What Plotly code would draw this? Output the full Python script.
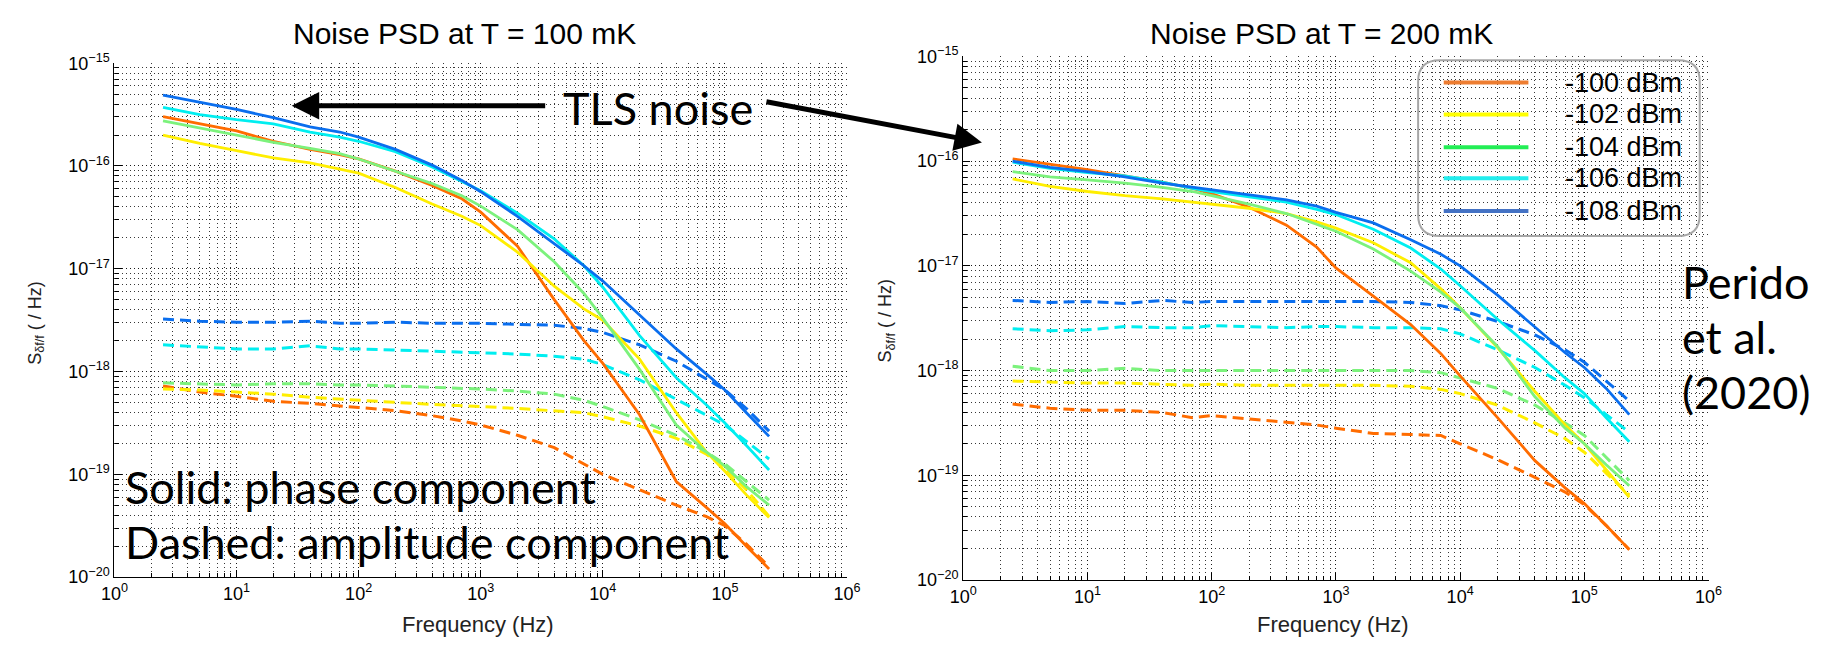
import plotly.graph_objects as go

W, H = 1825, 647

# ---------------------------------------------------------------- data
freq_hz = [2.5, 5, 10, 20, 40, 70, 100, 200, 400, 700, 1e3, 2e3, 4e3, 7e3,
           1e4, 2e4, 4e4, 7e4, 1e5, 1.5e5, 2.3e5]

powers = ["-100 dBm", "-102 dBm", "-104 dBm", "-106 dBm", "-108 dBm"]
line_colors = ["#FF6C00", "#FFEE00", "#7CF27C", "#00EEF0", "#0A6EEE"]
legend_colors = ["#ED7D31", "#FFFF00", "#22EE55", "#22EEEE", "#4472C4"]

# T = 100 mK, phase component (solid)
phase_100_m100 = [3.02e-16, 2.57e-16, 2.19e-16, 1.74e-16, 1.45e-16, 1.29e-16, 1.17e-16, 8.91e-17,
                  6.46e-17, 4.79e-17, 3.55e-17, 1.66e-17, 5.01e-18, 2.00e-18, 1.20e-18, 3.80e-19,
                  8.51e-20, 4.79e-20, 3.31e-20, 2.00e-20, 1.20e-20]
phase_100_m102 = [2.00e-16, 1.66e-16, 1.41e-16, 1.20e-16, 1.07e-16, 9.33e-17, 8.51e-17, 6.17e-17,
                  4.27e-17, 3.24e-17, 2.63e-17, 1.45e-17, 6.76e-18, 4.07e-18, 3.16e-18, 1.32e-18,
                  3.98e-19, 1.66e-19, 1.07e-19, 6.31e-20, 3.80e-20]
phase_100_m104 = [2.75e-16, 2.34e-16, 2.00e-16, 1.70e-16, 1.48e-16, 1.32e-16, 1.17e-16, 8.91e-17,
                  6.76e-17, 5.13e-17, 4.07e-17, 2.40e-17, 1.17e-17, 5.75e-18, 3.31e-18, 1.05e-18,
                  3.02e-19, 1.66e-19, 1.20e-19, 7.59e-20, 5.01e-20]
phase_100_m106 = [3.72e-16, 3.16e-16, 2.82e-16, 2.57e-16, 2.14e-16, 1.91e-16, 1.74e-16, 1.38e-16,
                  9.77e-17, 7.08e-17, 5.75e-17, 3.47e-17, 1.95e-17, 1.07e-17, 6.61e-18, 2.24e-18,
                  8.71e-19, 4.79e-19, 3.16e-19, 1.91e-19, 1.10e-19]
phase_100_m108 = [4.90e-16, 4.17e-16, 3.55e-16, 2.95e-16, 2.40e-16, 2.14e-16, 1.91e-16, 1.45e-16,
                  1.02e-16, 7.24e-17, 5.62e-17, 3.24e-17, 1.74e-17, 1.07e-17, 7.59e-18, 3.55e-18,
                  1.66e-18, 9.55e-19, 6.61e-19, 3.98e-19, 2.34e-19]

# T = 100 mK, amplitude component (dashed)
amp_100_m100 = [7.24e-19, 6.31e-19, 5.75e-19, 5.13e-19, 4.90e-19, 4.68e-19, 4.47e-19, 4.17e-19,
                3.72e-19, 3.31e-19, 3.02e-19, 2.40e-19, 1.82e-19, 1.26e-19, 1.00e-19, 7.08e-20,
                5.01e-20, 3.89e-20, 3.16e-20, 2.09e-20, 1.26e-20]
amp_100_m102 = [6.76e-19, 6.61e-19, 6.31e-19, 6.03e-19, 5.62e-19, 5.37e-19, 5.25e-19, 5.01e-19,
                4.79e-19, 4.68e-19, 4.57e-19, 4.37e-19, 4.17e-19, 3.98e-19, 3.63e-19, 2.95e-19,
                2.24e-19, 1.58e-19, 1.15e-19, 7.08e-20, 3.89e-20]
amp_100_m104 = [7.76e-19, 7.59e-19, 7.41e-19, 7.59e-19, 7.59e-19, 7.41e-19, 7.41e-19, 7.24e-19,
                7.08e-19, 6.92e-19, 6.76e-19, 6.46e-19, 6.03e-19, 5.25e-19, 4.57e-19, 3.39e-19,
                2.40e-19, 1.66e-19, 1.26e-19, 8.51e-20, 5.62e-20]
amp_100_m106 = [1.82e-18, 1.74e-18, 1.66e-18, 1.66e-18, 1.78e-18, 1.66e-18, 1.66e-18, 1.62e-18,
                1.58e-18, 1.55e-18, 1.51e-18, 1.48e-18, 1.41e-18, 1.32e-18, 1.17e-18, 8.32e-19,
                5.37e-19, 3.80e-19, 3.02e-19, 2.09e-19, 1.41e-19]
amp_100_m108 = [3.24e-18, 3.09e-18, 3.02e-18, 3.02e-18, 3.09e-18, 2.95e-18, 2.95e-18, 3.02e-18,
                2.95e-18, 2.95e-18, 2.95e-18, 2.88e-18, 2.82e-18, 2.63e-18, 2.40e-18, 1.82e-18,
                1.26e-18, 8.51e-19, 6.61e-19, 4.37e-19, 2.63e-19]

# T = 200 mK, phase component (solid)
phase_200_m100 = [1.05e-16, 9.33e-17, 8.32e-17, 7.24e-17, 6.31e-17, 5.50e-17, 4.90e-17, 3.63e-17,
                  2.45e-17, 1.51e-17, 9.55e-18, 5.13e-18, 2.75e-18, 1.45e-18, 8.91e-19, 3.55e-19,
                  1.38e-19, 7.59e-20, 5.37e-20, 3.31e-20, 1.95e-20]
phase_200_m102 = [6.76e-17, 5.75e-17, 5.13e-17, 4.68e-17, 4.37e-17, 4.07e-17, 3.89e-17, 3.55e-17,
                  3.16e-17, 2.63e-17, 2.29e-17, 1.66e-17, 1.07e-17, 6.03e-18, 3.98e-18, 1.66e-18,
                  6.31e-19, 3.02e-19, 2.00e-19, 1.12e-19, 6.17e-20]
phase_200_m104 = [7.94e-17, 7.08e-17, 6.61e-17, 6.17e-17, 5.62e-17, 5.13e-17, 4.68e-17, 3.89e-17,
                  3.16e-17, 2.51e-17, 2.14e-17, 1.45e-17, 8.91e-18, 5.62e-18, 3.98e-18, 1.70e-18,
                  5.62e-19, 2.82e-19, 2.00e-19, 1.26e-19, 7.94e-20]
phase_200_m106 = [9.77e-17, 8.51e-17, 7.76e-17, 7.24e-17, 6.31e-17, 5.50e-17, 5.13e-17, 4.57e-17,
                  4.07e-17, 3.47e-17, 3.09e-17, 2.24e-17, 1.48e-17, 9.33e-18, 6.46e-18, 3.09e-18,
                  1.55e-18, 8.51e-19, 6.03e-19, 3.55e-19, 2.09e-19]
phase_200_m108 = [1.00e-16, 8.71e-17, 7.94e-17, 7.08e-17, 6.17e-17, 5.62e-17, 5.37e-17, 4.79e-17,
                  4.27e-17, 3.72e-17, 3.24e-17, 2.57e-17, 1.78e-17, 1.29e-17, 1.00e-17, 5.25e-18,
                  2.63e-18, 1.48e-18, 1.07e-18, 6.76e-19, 3.80e-19]

# T = 200 mK, amplitude component (dashed)
amp_200_m100 = [4.79e-19, 4.37e-19, 4.17e-19, 4.17e-19, 3.98e-19, 3.55e-19, 3.72e-19, 3.47e-19,
                3.24e-19, 3.02e-19, 2.82e-19, 2.51e-19, 2.45e-19, 2.40e-19, 2.00e-19, 1.41e-19,
                9.55e-20, 6.92e-20, 5.25e-20, 3.31e-20, 1.95e-20]
amp_200_m102 = [7.94e-19, 7.76e-19, 7.59e-19, 7.59e-19, 7.41e-19, 7.24e-19, 7.41e-19, 7.24e-19,
                7.24e-19, 7.24e-19, 7.24e-19, 7.24e-19, 7.08e-19, 6.61e-19, 6.03e-19, 4.68e-19,
                3.16e-19, 2.24e-19, 1.66e-19, 1.05e-19, 6.46e-20]
amp_200_m104 = [1.10e-18, 1.00e-18, 1.00e-18, 1.05e-18, 1.00e-18, 1.00e-18, 1.00e-18, 1.00e-18,
                1.00e-18, 1.00e-18, 1.00e-18, 1.00e-18, 1.00e-18, 9.55e-19, 8.51e-19, 6.76e-19,
                4.68e-19, 3.16e-19, 2.40e-19, 1.48e-19, 8.91e-20]
amp_200_m106 = [2.51e-18, 2.40e-18, 2.45e-18, 2.63e-18, 2.57e-18, 2.57e-18, 2.69e-18, 2.63e-18,
                2.57e-18, 2.63e-18, 2.63e-18, 2.57e-18, 2.57e-18, 2.51e-18, 2.24e-18, 1.58e-18,
                1.07e-18, 7.24e-19, 5.50e-19, 3.80e-19, 2.57e-19]
amp_200_m108 = [4.68e-18, 4.47e-18, 4.57e-18, 4.37e-18, 4.68e-18, 4.47e-18, 4.57e-18, 4.57e-18,
                4.57e-18, 4.57e-18, 4.57e-18, 4.57e-18, 4.47e-18, 4.17e-18, 3.80e-18, 2.95e-18,
                2.19e-18, 1.58e-18, 1.20e-18, 7.94e-19, 5.13e-19]

x_tick_exp = [0, 1, 2, 3, 4, 5, 6]
y_tick_exp = [-20, -19, -18, -17, -16, -15]

panels = [
    dict(xa="x", ya="y", title="Noise PSD at T = 100 mK",
         phase=[phase_100_m100, phase_100_m102, phase_100_m104, phase_100_m106, phase_100_m108],
         amp=[amp_100_m100, amp_100_m102, amp_100_m104, amp_100_m106, amp_100_m108]),
    dict(xa="x2", ya="y2", title="Noise PSD at T = 200 mK",
         phase=[phase_200_m100, phase_200_m102, phase_200_m104, phase_200_m106, phase_200_m108],
         amp=[amp_200_m100, amp_200_m102, amp_200_m104, amp_200_m106, amp_200_m108]),
]

# ---------------------------------------------------------------- helpers
def px(x):
    return x / W


def py(y):
    return 1 - y / H


AXIS_FONT = "Liberation Sans, Arial, Helvetica, sans-serif"
SLIDE_FONT = "Lato, Open Sans, sans-serif"
GRID = "rgba(20,20,20,0.85)"

fig = go.Figure()

for p in panels:
    for i in range(len(powers)):
        fig.add_trace(go.Scatter(
            x=freq_hz, y=p["amp"][i], xaxis=p["xa"], yaxis=p["ya"], mode="lines",
            line=dict(color=line_colors[i], width=3, dash="11px,6px"),
            showlegend=False, hoverinfo="skip"))
    for i in range(len(powers)):
        fig.add_trace(go.Scatter(
            x=freq_hz, y=p["phase"][i], xaxis=p["xa"], yaxis=p["ya"], mode="lines",
            line=dict(color=line_colors[i], width=2.8),
            showlegend=False, hoverinfo="skip"))


def log_axis(domain, rng, exps, anchor):
    return dict(
        type="log", range=rng, domain=domain, anchor=anchor,
        tickmode="array", tickvals=[10.0 ** e for e in exps],
        ticktext=["10<sup>%s</sup>" % (str(e).replace("-", "\u2212")) for e in exps],
        ticks="inside", ticklen=7, tickwidth=1, tickcolor="black",
        showline=True, linecolor="black", linewidth=1.3, mirror=False,
        showgrid=True, gridcolor=GRID, gridwidth=1, griddash="1px,3px",
        minor=dict(dtick="D1", ticks="inside", ticklen=4, tickcolor="black",
                   showgrid=True, gridcolor=GRID, gridwidth=1, griddash="1px,3px"),
        zeroline=False, tickfont=dict(family=AXIS_FONT, size=18, color="black"),
    )


# axes box positions (pixels)
L = dict(x0=102, x1=846, y0=53, y1=585)
R = dict(x0=964, x1=1721, y0=46, y1=588)

fig.update_layout(
    width=W, height=H, margin=dict(l=0, r=0, t=0, b=0),
    paper_bgcolor="white", plot_bgcolor="rgba(0,0,0,0)", showlegend=False,
    xaxis=log_axis([px(L["x0"]), px(L["x1"])], [0, 6], x_tick_exp, "y"),
    yaxis=log_axis([py(L["y1"]), py(L["y0"])], [-20, -15], y_tick_exp, "x"),
    xaxis2=log_axis([px(R["x0"]), px(R["x1"])], [0, 6], x_tick_exp, "y2"),
    yaxis2=log_axis([py(R["y1"]), py(R["y0"])], [-20, -15], y_tick_exp, "x2"),
)

ann = []
# titles
for cx, p in zip([458, 1328], panels):
    ann.append(dict(x=px(cx), y=py(22), xref="paper", yref="paper", text=p["title"],
                    showarrow=False, xanchor="center", yanchor="middle",
                    font=dict(family=AXIS_FONT, size=30, color="black")))
# axis labels
for cx, cy in [(471, 634), (1340, 634)]:
    ann.append(dict(x=px(cx), y=py(cy), xref="paper", yref="paper", text="Frequency (Hz)",
                    showarrow=False, xanchor="center", yanchor="middle",
                    font=dict(family=AXIS_FONT, size=22, color="#222")))
for cx, cy in [(22, 322), (886, 319)]:
    ann.append(dict(x=px(cx), y=py(cy), xref="paper", yref="paper",
                    text="S<sub>\u03b4f/f</sub> ( / Hz)", textangle=-90,
                    showarrow=False, xanchor="center", yanchor="middle",
                    font=dict(family=AXIS_FONT, size=18, color="#222")))

# slide annotations
big = dict(family=SLIDE_FONT, size=45, color="black")
ann.append(dict(x=px(556), y=py(99), xref="paper", yref="paper", text="TLS noise",
                showarrow=False, xanchor="left", yanchor="middle", font=big))
ann.append(dict(x=px(111), y=py(492), xref="paper", yref="paper", text="Solid: phase component",
                showarrow=False, xanchor="left", yanchor="middle", font=big))
ann.append(dict(x=px(111), y=py(549), xref="paper", yref="paper",
                text="Dashed: amplitude component",
                showarrow=False, xanchor="left", yanchor="middle", font=big))
for txt, cy in [("Perido", 279), ("et al.", 336), ("(2020)", 393)]:
    ann.append(dict(x=px(1692), y=py(cy), xref="paper", yref="paper", text=txt,
                    showarrow=False, xanchor="left", yanchor="middle", font=big))

# arrows pointing at the TLS plateau
ann.append(dict(x=px(282), y=py(97), xref="paper", yref="paper", text="",
                showarrow=True, arrowhead=2, arrowsize=1.1, arrowwidth=5,
                arrowcolor="black", ax=255, ay=0))
ann.append(dict(x=px(983), y=py(135), xref="paper", yref="paper", text="",
                showarrow=True, arrowhead=2, arrowsize=1.1, arrowwidth=5,
                arrowcolor="black", ax=-217, ay=-41))

# legend
rows_y = [73, 106, 140, 172, 206]
shapes = []
for c, lab, ry in zip(legend_colors, powers, rows_y):
    shapes.append(dict(type="line", xref="paper", yref="paper",
                       x0=px(1452), x1=px(1538), y0=py(ry), y1=py(ry),
                       line=dict(color=c, width=4)))
    ann.append(dict(x=px(1573), y=py(ry), xref="paper", yref="paper", text=lab,
                    showarrow=False, xanchor="left", yanchor="middle",
                    font=dict(family=AXIS_FONT, size=27, color="black")))


def rounded_box(x0, y0, x1, y1, r):
    pts = [
        "M %f,%f" % (px(x0 + r), py(y0)),
        "L %f,%f" % (px(x1 - r), py(y0)),
        "Q %f,%f %f,%f" % (px(x1), py(y0), px(x1), py(y0 + r)),
        "L %f,%f" % (px(x1), py(y1 - r)),
        "Q %f,%f %f,%f" % (px(x1), py(y1), px(x1 - r), py(y1)),
        "L %f,%f" % (px(x0 + r), py(y1)),
        "Q %f,%f %f,%f" % (px(x0), py(y1), px(x0), py(y1 - r)),
        "L %f,%f" % (px(x0), py(y0 + r)),
        "Q %f,%f %f,%f" % (px(x0), py(y0), px(x0 + r), py(y0)),
        "Z",
    ]
    return " ".join(pts)


shapes.append(dict(type="path", xref="paper", yref="paper",
                   path=rounded_box(1426, 50, 1712, 232, 22),
                   line=dict(color="#A6A6A6", width=2)))

fig.update_layout(annotations=ann, shapes=shapes)
fig.write_html("out.html")
